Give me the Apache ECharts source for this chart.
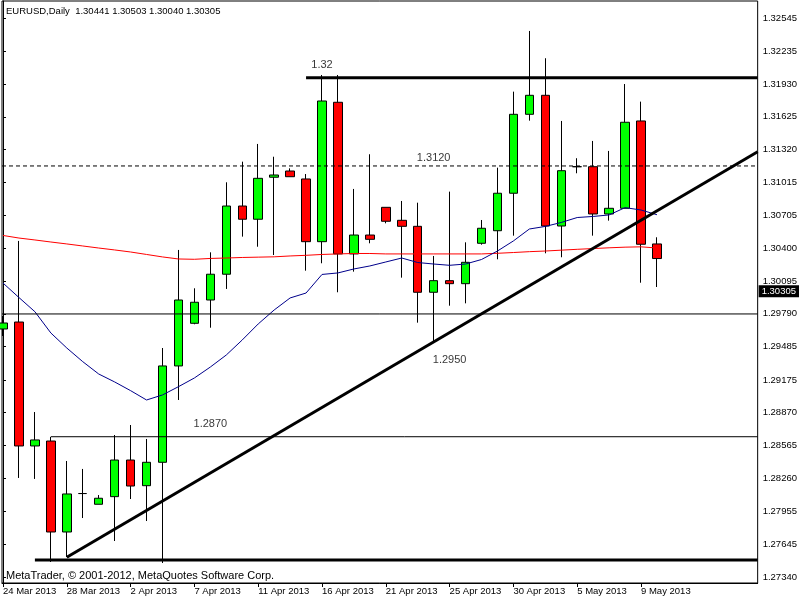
<!DOCTYPE html>
<html><head><meta charset="utf-8">
<script src="https://cdn.jsdelivr.net/npm/echarts@6/dist/echarts.min.js"></script>
<style>html,body{margin:0;padding:0;background:#fff}#c{width:800px;height:600px}</style>
</head><body><div id="c"></div>
<script>
// ---- data ----
const dates = ['24 Mar 2013','25 Mar 2013','26 Mar 2013','27 Mar 2013','28 Mar 2013','29 Mar 2013','31 Mar 2013',
  '1 Apr 2013','2 Apr 2013','3 Apr 2013','4 Apr 2013','5 Apr 2013','7 Apr 2013','8 Apr 2013','9 Apr 2013','10 Apr 2013',
  '11 Apr 2013','12 Apr 2013','14 Apr 2013','15 Apr 2013','16 Apr 2013','17 Apr 2013','18 Apr 2013','19 Apr 2013',
  '21 Apr 2013','22 Apr 2013','23 Apr 2013','24 Apr 2013','25 Apr 2013','26 Apr 2013','28 Apr 2013','29 Apr 2013',
  '30 Apr 2013','1 May 2013','2 May 2013','3 May 2013','5 May 2013','6 May 2013','7 May 2013','8 May 2013','9 May 2013','10 May 2013'];
const open  = [1.29649,1.29714,1.28560,1.28606,1.27759,1.28117,1.28017,1.28088,1.28429,1.28190,1.28408,1.29305,1.29702,1.29919,
  1.30159,1.30794,1.30671,1.31062,1.31120,1.31046,1.30462,1.31760,1.30348,1.30524,1.30782,1.30661,1.30605,1.29991,1.30099,
  1.30071,1.30447,1.30564,1.30913,1.31648,1.31825,1.30608,1.31160,1.31160,1.30720,1.30773,1.31586,1.30441];
const high  = [1.29770,1.30469,1.28876,1.28644,1.28420,1.28346,1.28103,1.28662,1.28755,1.28625,1.29472,1.30385,1.30028,1.30363,
  1.31015,1.31207,1.31372,1.31253,1.31145,1.31092,1.32014,1.32014,1.30953,1.31276,1.30782,1.30841,1.30825,1.30329,1.30928,
  1.30456,1.30664,1.31151,1.31859,1.32424,1.32170,1.31586,1.31239,1.31400,1.31307,1.31930,1.31766,1.30503];
const low   = [1.29584,1.28262,1.28253,1.27480,1.27526,1.27889,1.28017,1.27675,1.28066,1.27861,1.27470,1.28988,1.29693,1.29661,
  1.30022,1.30509,1.30415,1.30338,1.31067,1.30192,1.30261,1.29991,1.30183,1.30447,1.30633,1.30127,1.29708,1.29519,1.29866,
  1.29888,1.30434,1.30298,1.30518,1.31589,1.30354,1.30317,1.31099,1.30518,1.30658,1.30773,1.30080,1.30040];
const close = [1.29705,1.28560,1.28616,1.27759,1.28113,1.28117,1.28073,1.28429,1.28187,1.28408,1.29305,1.29919,1.29898,1.30159,
  1.30794,1.30671,1.31052,1.31083,1.31067,1.30462,1.31772,1.30348,1.30524,1.30484,1.30652,1.30605,1.29991,1.30099,1.30071,
  1.30270,1.30587,1.30913,1.31648,1.31825,1.30608,1.31123,1.31160,1.30720,1.30773,1.31574,1.30438,1.30305];
const maBlue = [1.30077,1.29942,1.29810,1.29612,1.29472,1.29345,1.29230,1.29156,1.29075,1.28988,1.29035,1.29112,1.29193,1.29295,
  1.29407,1.29547,1.29696,1.29826,1.29938,1.29984,1.30157,1.30171,1.30208,1.30236,1.30273,1.30310,1.30268,1.30254,1.30242,
  1.30254,1.30296,1.30375,1.30469,1.30580,1.30604,1.30641,1.30687,1.30697,1.30711,1.30779,1.30757,1.30713];
const maRed = [1.30520,1.30496,1.30478,1.30459,1.30441,1.30422,1.30403,1.30385,1.30366,1.30343,1.30320,1.30301,1.30298,1.30306,
  1.30310,1.30315,1.30318,1.30321,1.30329,1.30335,1.30343,1.30348,1.30352,1.30352,1.30348,1.30348,1.30348,1.30348,1.30348,
  1.30348,1.30348,1.30354,1.30361,1.30369,1.30375,1.30383,1.30391,1.30398,1.30405,1.30411,1.30414,1.30403];
const xTickLabels = ['24 Mar 2013','28 Mar 2013','2 Apr 2013','7 Apr 2013','11 Apr 2013','16 Apr 2013','21 Apr 2013',
  '25 Apr 2013','30 Apr 2013','5 May 2013','9 May 2013'];
const yTickLabels = ['1.27340','1.27645','1.27955','1.28260','1.28565','1.28870','1.29175','1.29485','1.29790','1.30095',
  '1.30400','1.30705','1.31015','1.31320','1.31625','1.31930','1.32235','1.32545'];
// drawn objects: [startIndex, startPrice, endIndex, endPrice]
const resistance = [19, 1.31988, 47.3125, 1.31988];
const dashedLevel = [-0.0625, 1.31167, 47.3125, 1.31167];
const midLevel = [-0.0625, 1.29789, 47.3125, 1.29789];
const level2870 = [3, 1.28646, 47.3125, 1.28646];
const supportLow = [2, 1.27498, 47.3125, 1.27498];
const trendLine = [4, 1.27523, 47.3125, 1.31300];
const annTexts = ['1.32', '1.3120', '1.2950', '1.2870'];
const annIdx = [20, 27, 28, 13];
const annPrice = [1.32103, 1.31243, 1.29361, 1.28765];
const titleText = 'EURUSD,Daily  1.30441 1.30503 1.30040 1.30305';

// ---- build ----
const FONT = 'Liberation Sans';
const xTickVals = xTickLabels.map(l => dates.indexOf(l));
const yTickVals = yTickLabels.map(Number);
const bars = dates.map((d, i) => [i, open[i], close[i], low[i], high[i]]);
const seg = a => [[a[0], a[1]], [a[2], a[3]]];
const lineSeries = (a, width, type) => ({
  type: 'line', data: seg(a), symbol: 'none', silent: true, z: 4,
  lineStyle: { color: '#000', width: width, type: type || 'solid', cap: 'butt' }
});
const last = close[close.length - 1];

const chart = echarts.init(document.getElementById('c'), null, { renderer: 'canvas' });
chart.setOption({
  animation: false,
  backgroundColor: '#fff',
  title: [
    { text: titleText, left: 6, top: 6, padding: 0,
      textStyle: { fontFamily: FONT, fontSize: 9.5, fontWeight: 'normal', color: '#000' } },
    { text: 'MetaTrader, © 2001-2012, MetaQuotes Software Corp.', left: 6, top: 570, padding: 0,
      textStyle: { fontFamily: FONT, fontSize: 11, fontWeight: 'normal', color: '#000' } }
  ],
  grid: { left: 2, right: 40, top: 1, bottom: 17, show: true, borderColor: '#000', borderWidth: 1, backgroundColor: '#fff' },
  xAxis: {
    type: 'value', min: -0.0625, max: 47.3125,
    splitLine: { show: false },
    axisLine: { show: true, lineStyle: { color: '#000', width: 1 } },
    axisTick: { show: true, customValues: xTickVals, length: 4, lineStyle: { color: '#000' } },
    axisLabel: { customValues: xTickVals, formatter: v => dates[Math.round(v)], align: 'left', margin: 3,
      fontFamily: FONT, fontSize: 9.5, color: '#000' }
  },
  yAxis: {
    type: 'value', position: 'right', min: 1.27284, max: 1.32703, scale: true,
    splitLine: { show: false },
    axisLine: { show: true, lineStyle: { color: '#000', width: 1 } },
    axisTick: { show: true, customValues: yTickVals, length: 3, lineStyle: { color: '#000' } },
    axisLabel: { customValues: yTickVals, formatter: v => v.toFixed(5), margin: 5,
      fontFamily: FONT, fontSize: 9.5, color: '#000' }
  },
  series: [
    {
      type: 'candlestick', data: bars, encode: { x: 0, y: [1, 2, 3, 4] }, barWidth: 9, z: 2, clip: true, silent: true,
      itemStyle: { color: '#00ff00', color0: '#ff0000', borderColor: '#000', borderColor0: '#000',
        borderColorDoji: '#000', borderWidth: 1 }
    },
    { type: 'line', data: maRed.map((v, i) => [i, v]), symbol: 'none', silent: true, z: 3,
      lineStyle: { color: '#ff0000', width: 1 } },
    { type: 'line', data: maBlue.map((v, i) => [i, v]), symbol: 'none', silent: true, z: 3, clip: false,
      lineStyle: { color: '#00008b', width: 1 },
      markLine: { silent: true, symbol: 'none', animation: false,
        lineStyle: { color: 'rgba(0,0,0,0)', width: 0 },
        label: { show: true, position: 'end', distance: 1, formatter: last.toFixed(5), color: '#fff',
          backgroundColor: '#000', padding: [1, 3, 1, 3], fontFamily: FONT, fontSize: 9.5 },
        data: [{ yAxis: last }] } },
    lineSeries(resistance, 3),
    lineSeries(dashedLevel, 1, [4, 3]),
    lineSeries(midLevel, 1),
    lineSeries(level2870, 1),
    lineSeries(supportLow, 3),
    lineSeries(trendLine, 3),
    { type: 'scatter', data: annIdx.map((x, i) => [x, annPrice[i]]), symbolSize: 0, silent: true, z: 5,
      label: { show: true, position: 'inside', formatter: p => annTexts[p.dataIndex],
        fontFamily: FONT, fontSize: 11, color: '#000' } }
  ]
});
</script></body></html>
